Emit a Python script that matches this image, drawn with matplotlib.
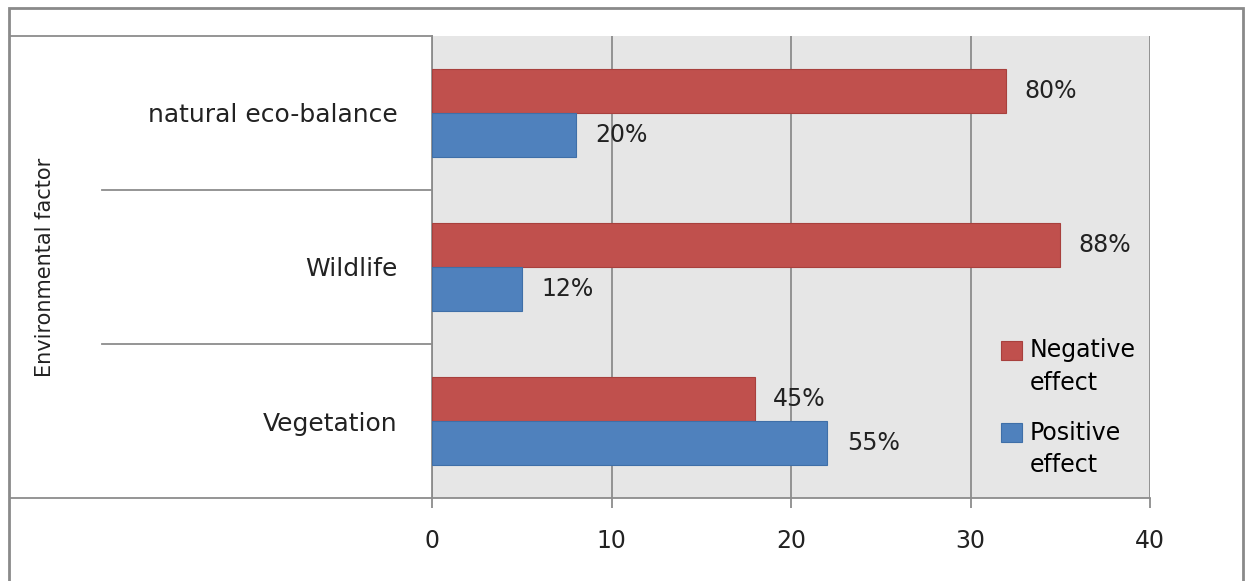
import matplotlib
matplotlib.use("Agg")
import matplotlib.pyplot as plt
import numpy as np
from matplotlib.transforms import blended_transform_factory
from matplotlib.patches import Rectangle
from matplotlib.lines import Line2D
from matplotlib.container import BarContainer
from matplotlib.legend_handler import HandlerPatch, update_from_first_child

# Data
categories = ["Vegetation", "Wildlife", "natural eco-balance"]
negative = [18, 35, 32]
positive = [22, 5, 8]
neg_labels = ["45%", "88%", "80%"]
pos_labels = ["55%", "12%", "20%"]
xticks = [0, 10, 20, 30, 40]

red = "#C0504D"
blue = "#4F81BD"
grey = "#8C8C8C"
txt = "#222222"
fs = 17

fig = plt.figure(figsize=(12.49, 5.81), dpi=100)
ax = fig.add_axes([432/1249, 1-498/581, 718/1249, 462/581])
ax.set_facecolor("#E6E6E6")

y = np.arange(len(categories))
h = 0.285
ax.barh(y + h/2, negative, height=h, color=red, edgecolor="#A8403D", linewidth=0.8,
        label="Negative\neffect", zorder=3)
ax.barh(y - h/2, positive, height=h, color=blue, edgecolor="#3F6FA8", linewidth=0.8,
        label="Positive\neffect", zorder=3)

for i in range(len(categories)):
    ax.text(negative[i] + 1.0, y[i] + h/2, neg_labels[i], va="center", ha="left",
            fontsize=fs, color=txt)
    ax.text(positive[i] + 1.1, y[i] - h/2, pos_labels[i], va="center", ha="left",
            fontsize=fs, color=txt)

ax.set_xlim(0, 40)
ax.set_ylim(-0.5, 2.5)
ax.set_xticks(xticks)
ax.xaxis.grid(True, color=grey, linewidth=1.3, zorder=0)
ax.set_axisbelow(True)
ax.tick_params(axis="x", length=7, width=1.3, color=grey, pad=15, labelsize=fs,
               labelcolor=txt)
ax.set_yticks(y)
ax.set_yticklabels(categories)
ax.tick_params(axis="y", length=0, pad=25, labelsize=18, labelcolor=txt)

for s in ["top", "right"]:
    ax.spines[s].set_visible(False)
for s in ["left", "bottom"]:
    ax.spines[s].set_color(grey)
    ax.spines[s].set_linewidth(1.3)

ax.set_ylabel("Environmental factor", fontsize=15, color=txt)
ax.yaxis.set_label_coords((55 - 432) / 718, 0.5)

# category box lines on the left
tr = blended_transform_factory(fig.transFigure, ax.transData)
for b in [0.5, 1.5]:
    fig.add_artist(Line2D([102/1249, 432/1249], [b, b], transform=tr, color=grey, linewidth=1.3))
fig.add_artist(Line2D([10/1249, 432/1249], [1-36/581, 1-36/581], color=grey, linewidth=1.3))
fig.add_artist(Line2D([10/1249, 432/1249], [1-498/581, 1-498/581], color=grey, linewidth=1.3))

# outer frame
fig.add_artist(Rectangle((9/1249, -0.05), (1243-9)/1249, 1.05 - 8/581,
                         transform=fig.transFigure, fill=False, edgecolor="#8A8A8A", linewidth=2))


# legend square next to the first line of each two-line label
def top_square(legend, orig_handle, xdescent, ydescent, width, height, fontsize):
    return Rectangle((-xdescent, -ydescent + 0.75*fontsize), width, height)


leg = ax.legend(loc="upper left", bbox_to_anchor=(0.78, 0.366), frameon=False, fontsize=fs,
                handlelength=0.85, handleheight=0.85, handletextpad=0.35, labelspacing=1.1,
                borderaxespad=0,
                handler_map={BarContainer: HandlerPatch(patch_func=top_square,
                                                        update_func=update_from_first_child)})
for t in leg.get_texts():
    t.set_linespacing(1.45)

fig.savefig("out.png", dpi=100)
